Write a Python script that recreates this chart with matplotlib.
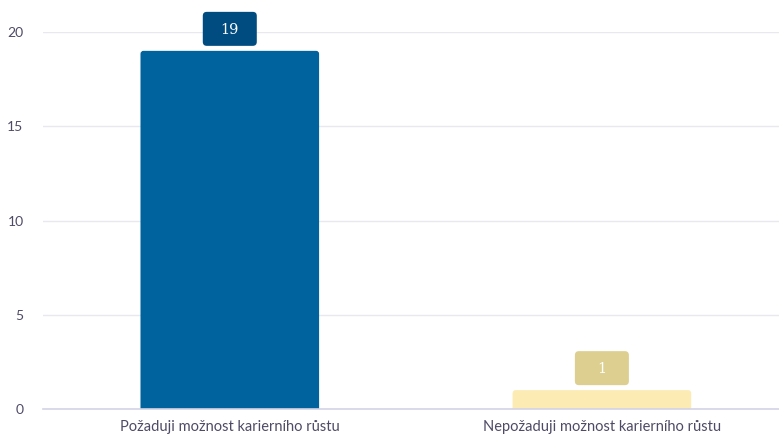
import matplotlib
matplotlib.use("Agg")
import matplotlib.pyplot as plt
from matplotlib.patches import FancyBboxPatch
from matplotlib import transforms

categories = ["Požaduji možnost karierního růstu", "Nepožaduji možnost karierního růstu"]
values = [19, 1]
bar_colors = ["#00639e", "#fcebb2"]
badge_colors = ["#004b80", "#dccf8f"]
y_ticks = [0, 5, 10, 15, 20]

plt.rcParams["font.family"] = ["Lato", "DejaVu Sans"]

W, H = 779, 434
fig = plt.figure(figsize=(W / 100, H / 100), dpi=100)
left, right, bottom, top = 43, 779, 409, 32
ax = fig.add_axes([left / W, (H - bottom) / H, (right - left) / W, (bottom - top) / H])

ax.set_xlim(-0.502, 1.476)
ax.set_ylim(0, 20)

# pixel -> data scale factors for rounded corners
x_per_px = (1.476 + 0.502) / (right - left)
y_per_px = 20 / (bottom - top)
aspect = y_per_px / x_per_px

bar_width = 0.48
radius = 3 * x_per_px
for i, (v, c) in enumerate(zip(values, bar_colors)):
    ext = 4 * y_per_px
    patch = FancyBboxPatch((i - bar_width / 2, -ext), bar_width, v + ext,
                           boxstyle=f"round,pad=0,rounding_size={radius}",
                           mutation_aspect=aspect, fc=c, ec="none", zorder=3)
    ax.add_patch(patch)

# value badges above the bars
for i, (v, c) in enumerate(zip(values, badge_colors)):
    tr = fig.dpi_scale_trans + transforms.ScaledTranslation(i, v, ax.transData)
    badge = FancyBboxPatch((-0.27, 0.05), 0.54, 0.34,
                           boxstyle="round,pad=0,rounding_size=0.04",
                           fc=c, ec="none", transform=tr, clip_on=False, zorder=4)
    ax.add_patch(badge)
    ax.text(0, 0.21, str(v), transform=tr, ha="center", va="center",
            color="white", fontsize=10.5, family=["DejaVu Serif"], zorder=5)

ax.set_yticks(y_ticks)
ax.set_yticklabels([str(t) for t in y_ticks])
ax.set_xticks(range(len(categories)))
ax.set_xticklabels(categories)
ax.tick_params(axis="both", length=0, labelcolor="#4f4a66")
ax.tick_params(axis="y", pad=14, labelsize=10)
ax.tick_params(axis="x", pad=8, labelsize=10.5)
for lbl in ax.get_yticklabels():
    lbl.set_horizontalalignment("right")

ax.grid(axis="y", color="#e8e8ee", linewidth=1, zorder=0)
ax.set_axisbelow(True)
for s in ["top", "right", "left"]:
    ax.spines[s].set_visible(False)
ax.spines["bottom"].set_color("#d3d3e6")
ax.spines["bottom"].set_linewidth(1.2)
ax.spines["bottom"].set_zorder(4)

fig.savefig("out.png", dpi=100)
